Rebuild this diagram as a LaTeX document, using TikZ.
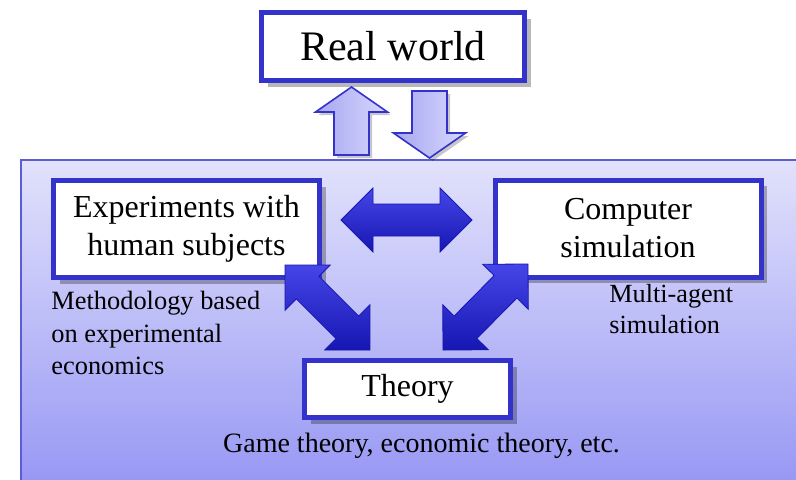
\documentclass[tikz,border=0pt]{standalone}
\usepackage{fontspec}
\setmainfont{Liberation Serif}
\usetikzlibrary{calc,shadows}

\definecolor{boxblue}{RGB}{51,51,204}
\definecolor{arrowdark}{RGB}{22,22,178}
\definecolor{arrowlight}{RGB}{70,70,232}
\definecolor{panetop}{RGB}{226,226,252}
\definecolor{panebottom}{RGB}{150,150,244}
\definecolor{liftleft}{RGB}{166,166,240}
\definecolor{liftright}{RGB}{216,216,255}

\tikzset{
every picture/.style={
line join=miter
}}

% fat arrow with a head at both ends
\newcommand{\fatboth}[2]{%
\path[fat] (#1)
 -- ($(#1)!16pt!(#2)!16pt!90:(#2)$) -- ($(#1)!16pt!(#2)!8pt!90:(#2)$)
 -- ($(#2)!16pt!(#1)!8pt!-90:(#1)$) -- ($(#2)!16pt!(#1)!16pt!-90:(#1)$)
 -- (#2)
 -- ($(#2)!16pt!(#1)!16pt!90:(#1)$) -- ($(#2)!16pt!(#1)!8pt!90:(#1)$)
 -- ($(#1)!16pt!(#2)!8pt!-90:(#2)$) -- ($(#1)!16pt!(#2)!16pt!-90:(#2)$)
 -- cycle;}

% light arrow from tail to tip
\newcommand{\liftpath}[2]{%
($(#1)!8.75pt!90:(#2)$)
 -- ($(#2)!12.5pt!(#1)!8.75pt!-90:(#1)$) -- ($(#2)!12.5pt!(#1)!18pt!-90:(#1)$)
 -- (#2)
 -- ($(#2)!12.5pt!(#1)!18pt!90:(#1)$) -- ($(#2)!12.5pt!(#1)!8.75pt!90:(#1)$)
 -- ($(#1)!8.75pt!-90:(#2)$) -- cycle}
\newcommand{\liftarrow}[2]{%
\fill[black, opacity=0.22, transform canvas={shift={(1.5pt,-1.5pt)}}] \liftpath{#1}{#2};
\path[lift] \liftpath{#1}{#2};}

\begin{document}
\begin{tikzpicture}[x=0.5pt, y=-0.5pt,
box/.style = {rectangle, draw=boxblue, line width=2.5pt, fill=white, inner sep=0pt, align=center,
 font=\fontsize{16}{19}\selectfont,
 drop shadow={shadow xshift=3pt, shadow yshift=-3pt, fill=black, opacity=0.28}},
note/.style = {inner sep=0pt, align=left, anchor=north west},
fat/.style = {draw=arrowdark, line width=0.4pt, top color=arrowlight, bottom color=arrowdark},
lift/.style = {draw=boxblue, line width=0.8pt, left color=liftleft, right color=liftright}]

\useasboundingbox (0,0) rectangle (796,479);

% background panel
\begin{scope}
\clip (0,0) rectangle (796,479);
\shade[top color=panetop, bottom color=panebottom, draw=boxblue!80, line width=0.6pt]
 (21,160) rectangle (810,490);
\end{scope}

\node[box, minimum width=131.5pt, minimum height=34pt, font=\fontsize{21}{25}\selectfont]
 (world) at (393,46.5) {Real world};

\coordinate (upTail) at (351.5,155);
\coordinate (upTip) at (351.5,87);
\coordinate (dnTail) at (429.5,91);
\coordinate (dnTip) at (429.5,158);
\liftarrow{upTail}{upTip}
\liftarrow{dnTail}{dnTip}

\node[box, minimum width=133pt, minimum height=48.5pt] (exp) at (186.5,229)
 {Experiments with\\human subjects};
\node[box, minimum width=133pt, minimum height=48.5pt] (sim) at (628,228.5)
 {Computer\\simulation};
\node[box, minimum width=103pt, minimum height=28.5pt] (theory) at (407.5,389) {Theory};

\node[note, font=\fontsize{13.2}{16.25}\selectfont] (method) at (51,291)
 {Methodology based\\on experimental\\economics};
\node[note, font=\fontsize{13.1}{15.5}\selectfont] (mas) at (609,284)
 {Multi-agent\\simulation};
\node[anchor=base, inner sep=0pt, font=\fontsize{14}{17}\selectfont] (games) at (421.5,452)
 {Game theory, economic theory, etc.};

\coordinate (hl) at (341,220);
\coordinate (hr) at (472,220);
\coordinate (dl1) at (285,265);
\coordinate (dl2) at (370,350);
\coordinate (dr1) at (528,264);
\coordinate (dr2) at (443,350);
\fatboth{hl}{hr}
\fatboth{dl1}{dl2}
\fatboth{dr1}{dr2}
\end{tikzpicture}
\end{document}
